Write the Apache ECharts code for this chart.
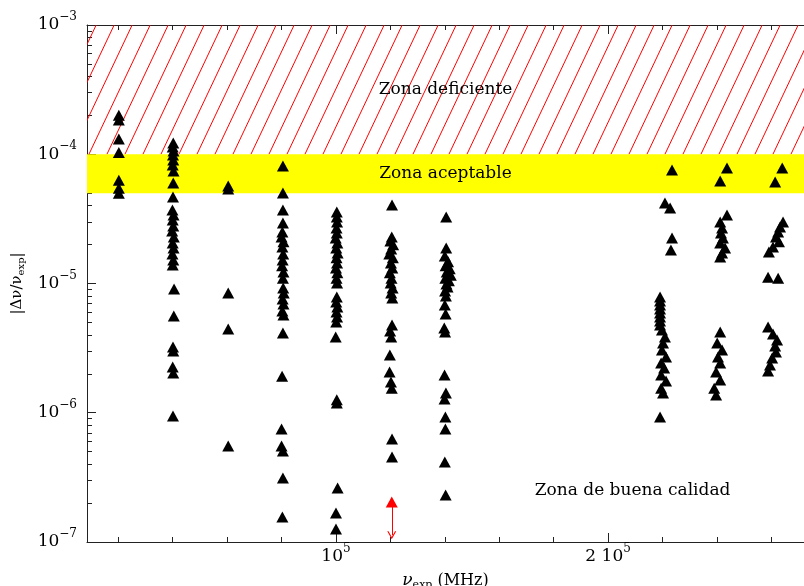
<!DOCTYPE html>
<html><head><meta charset="utf-8">
<script src="https://cdn.jsdelivr.net/npm/echarts@6/dist/echarts.min.js"></script>
<style>html,body{margin:0;padding:0;background:#fff}#c{width:804px;height:586px}</style>
</head><body><div id="c"></div>
<script>
// ---- data: [nu_exp (MHz), |dnu/nu_exp|] ----
const col1 = [[20200,2.0e-4],[20200,1.84e-4],[20200,1.31e-4],[20200,1.03e-4],[20200,6.3e-5],[20200,5.45e-5],[20200,5.0e-5]];
const col2 = [[40200,1.22e-4],[40000,1.14e-4],[40300,1.06e-4],[40100,9.87e-5],[40200,9.03e-5],[40000,8.26e-5],[40300,7.42e-5],[40200,5.99e-5],[40100,4.67e-5],[39900,3.70e-5],[40300,3.39e-5],[40000,3.10e-5],[40200,2.79e-5],[39800,2.55e-5],[40400,2.29e-5],[40000,2.06e-5],[40300,1.88e-5],[39900,1.69e-5],[40200,1.52e-5],[40000,1.39e-5],[40500,9.07e-6],[40400,5.60e-6],[40100,3.23e-6],[40200,3.00e-6],[40000,2.26e-6],[40200,2.03e-6],[40100,9.44e-7]];
const col3 = [[60400,5.68e-5],[60400,5.38e-5],[60400,8.44e-6],[60400,4.45e-6],[60400,5.53e-7]];
const col4 = [[80500,8.11e-5],[80500,5.01e-5],[80500,3.70e-5],[80500,2.94e-5],[80300,2.50e-5],[80000,2.29e-5],[80700,2.10e-5],[80300,1.92e-5],[80600,1.69e-5],[80400,1.52e-5],[80200,1.37e-5],[80700,1.23e-5],[80500,1.10e-5],[80600,9.23e-6],[80800,8.44e-6],[80400,7.59e-6],[80700,6.94e-6],[80300,6.13e-6],[80700,5.71e-6],[80500,4.14e-6],[80200,1.92e-6],[80000,7.49e-7],[80000,5.53e-7],[80500,5.06e-7],[80500,3.13e-7],[80300,1.56e-7]];
const col5 = [[100300,3.57e-5],[100300,3.27e-5],[100400,2.99e-5],[100200,2.69e-5],[100300,2.46e-5],[99900,2.25e-5],[100500,2.06e-5],[100100,1.88e-5],[100600,1.72e-5],[100200,1.58e-5],[100400,1.44e-5],[100000,1.32e-5],[100500,1.21e-5],[100200,1.10e-5],[100400,1.01e-5],[100300,7.86e-6],[100100,7.19e-6],[100500,6.58e-6],[100200,6.02e-6],[100400,5.51e-6],[100100,5.04e-6],[99900,3.86e-6],[100300,1.26e-6],[100300,1.19e-6],[100600,2.62e-7],[100000,1.68e-7],[100000,1.26e-7]];
const col6 = [[120600,4.05e-5],[120500,2.29e-5],[120000,2.13e-5],[121000,1.99e-5],[120300,1.85e-5],[119600,1.69e-5],[120900,1.58e-5],[120200,1.44e-5],[120700,1.32e-5],[119800,1.21e-5],[120400,1.10e-5],[120100,1.01e-5],[120800,9.23e-6],[120300,8.44e-6],[120700,7.72e-6],[120600,4.77e-6],[119900,4.29e-6],[120300,3.86e-6],[119800,2.80e-6],[119700,2.07e-6],[120200,1.73e-6],[120500,1.55e-6],[120600,6.26e-7],[120600,4.55e-7]];
const col7 = [[140500,3.27e-5],[140500,1.88e-5],[140000,1.63e-5],[141200,1.47e-5],[140300,1.37e-5],[141800,1.30e-5],[140700,1.23e-5],[142200,1.16e-5],[140200,1.10e-5],[141500,1.05e-5],[140600,9.91e-6],[141000,9.39e-6],[140100,8.75e-6],[140400,8.00e-6],[140000,6.82e-6],[140300,5.81e-6],[139800,4.52e-6],[140100,4.21e-6],[139900,1.96e-6],[140400,1.42e-6],[139900,1.28e-6],[140200,9.27e-7],[140200,7.49e-7],[140000,4.16e-7],[140300,2.31e-7]];
const col8 = [[223500,7.55e-5],[220900,4.20e-5],[222800,3.84e-5],[223500,2.25e-5],[223100,1.82e-5],[219100,7.86e-6],[219100,7.32e-6],[219100,6.82e-6],[219100,6.35e-6],[219100,5.91e-6],[219100,5.51e-6],[219100,5.13e-6],[219100,4.77e-6],[219800,4.37e-6],[220900,3.86e-6],[220200,3.46e-6],[219800,3.06e-6],[221300,2.70e-6],[219500,2.43e-6],[220600,2.22e-6],[219500,1.96e-6],[221300,1.76e-6],[219500,1.55e-6],[220200,1.42e-6],[219100,9.27e-7]];
const col9 = [[243700,7.83e-5],[241200,6.21e-5],[243700,3.39e-5],[241200,2.99e-5],[241900,2.69e-5],[241500,2.46e-5],[242200,2.25e-5],[241200,2.06e-5],[243000,1.88e-5],[241900,1.72e-5],[241200,1.60e-5],[241200,4.21e-6],[240100,3.46e-6],[241900,3.06e-6],[240400,2.70e-6],[241200,2.43e-6],[239700,2.07e-6],[241200,1.79e-6],[239000,1.55e-6],[239700,1.37e-6]];
const col10 = [[264000,7.83e-5],[261400,6.10e-5],[264300,2.99e-5],[263200,2.74e-5],[262500,2.50e-5],[261700,2.29e-5],[262800,2.10e-5],[260600,1.92e-5],[259100,1.75e-5],[258800,1.12e-5],[262500,1.10e-5],[258800,4.61e-6],[260600,4.07e-6],[262100,3.66e-6],[261400,3.28e-6],[261700,2.95e-6],[260300,2.65e-6],[259500,2.34e-6],[258800,2.10e-6]];
const limitPoint = [[120500, 2.04e-7]];
const limitArrowEnd = 1.13e-7;
const deficientBand = [1e-4, 1e-3];
const acceptableBand = [5e-5, 1e-4];
const xRange = [8500, 272000];
const yRange = [1e-7, 1e-3];
const xTicks = [20000,40000,60000,80000,100000,120000,140000,160000,180000,200000,220000,240000,260000];
const xMajorTicks = [100000, 200000];
const yMajorTicks = [1e-7, 1e-6, 1e-5, 1e-4, 1e-3];
const yMinorMantissas = [2, 3, 4, 5, 6, 7, 8, 9];
const zoneLabels = ['Zona deficiente', 'Zona aceptable', 'Zona de buena calidad'];
const goodZoneLabelAt = [209000, 2.52e-7];

const yMinorTicks = [];
yMajorTicks.slice(0, -1).forEach(d => yMinorMantissas.forEach(m => yMinorTicks.push(+(m * d).toPrecision(3))));

const SERIF = '"DejaVu Serif", "Liberation Serif", serif';
const AX = '#222';

// hatch pattern
const pc = document.createElement('canvas');
pc.width = 18; pc.height = 38;
const g = pc.getContext('2d');
g.strokeStyle = '#ff0000'; g.lineWidth = 1;
for (const dx of [-18, 0, 18]) { g.beginPath(); g.moveTo(dx, 38); g.lineTo(dx + 18, 0); g.stroke(); }

const allPoints = [].concat(col1, col2, col3, col4, col5, col6, col7, col8, col9, col10);

const supRich = {
  b: { fontFamily: SERIF, fontSize: 17, color: '#000' },
  s: { fontFamily: SERIF, fontSize: 12, color: '#000', lineHeight: 12, padding: [0, 0, 16, 0] }
};

function xAxisDef(pos, ticks, len, showLine, showLabel) {
  return {
    type: 'value', position: pos, min: xRange[0], max: xRange[1],
    axisLine: { show: showLine, onZero: false, lineStyle: { color: AX, width: 1 } },
    axisTick: { show: true, inside: true, length: len, customValues: ticks, lineStyle: { color: AX } },
    axisLabel: showLabel ? {
      show: true, margin: 6, customValues: xMajorTicks,
      formatter: v => (v === 100000 ? '{b|10}{s|5}' : '{b|2 10}{s|5}'),
      rich: supRich
    } : { show: false },
    splitLine: { show: false },
    name: showLabel ? '{n|ν}{sub|exp}{t| (MHz)}' : '',
    nameLocation: 'middle', nameGap: 28, nameMoveOverlap: false,
    nameTextStyle: { rich: {
      n: { fontFamily: SERIF, fontSize: 17, fontStyle: 'italic', color: '#000' },
      sub: { fontFamily: SERIF, fontSize: 11, color: '#000', padding: [10, 0, 0, 0] },
      t: { fontFamily: SERIF, fontSize: 16, color: '#000' }
    } }
  };
}

function yAxisDef(ticks, len, main) {
  return {
    type: 'log', logBase: 10, min: yRange[0], max: yRange[1], position: 'left',
    axisLine: { show: main, onZero: false, lineStyle: { color: AX, width: 1 } },
    axisTick: { show: true, inside: true, length: len, customValues: ticks, lineStyle: { color: AX } },
    minorTick: { show: false },
    axisLabel: main ? {
      margin: 10, customValues: yMajorTicks,
      formatter: v => '{b|10}{s|−' + Math.round(-Math.log10(v)) + '}',
      rich: supRich
    } : { show: false },
    splitLine: { show: false }, minorSplitLine: { show: false },
    name: main ? '{t||Δν/ν}{sub|exp}{t||}' : '',
    nameLocation: 'middle', nameRotate: 90, nameGap: 58,
    nameTextStyle: { rich: {
      t: { fontFamily: SERIF, fontSize: 15, color: '#000' },
      sub: { fontFamily: SERIF, fontSize: 10, color: '#000', padding: [9, 0, 0, 0] }
    } }
  };
}

const chart = echarts.init(document.getElementById('c'), null, { renderer: 'canvas' });
chart.setOption({
  animation: false,
  backgroundColor: '#fff',
  grid: { left: 87, right: 0, top: 25, bottom: 44, containLabel: false, outerBoundsMode: 'none' },
  xAxis: [
    xAxisDef('bottom', xTicks, 5, true, true),
    xAxisDef('bottom', xMajorTicks, 9, false, false),
    xAxisDef('top', xTicks, 5, true, false),
    xAxisDef('top', xMajorTicks, 9, false, false)
  ],
  yAxis: [
    yAxisDef(yMajorTicks, 9, true),
    yAxisDef(yMinorTicks, 5, false)
  ],
  series: [
    {
      type: 'scatter', name: 'medidas', xAxisIndex: 0, yAxisIndex: 0,
      data: allPoints, symbol: 'triangle', symbolSize: [12, 11],
      itemStyle: { color: '#000', opacity: 1 }, z: 5,
      markArea: {
        silent: true,
        data: [
          [{ yAxis: deficientBand[0], name: zoneLabels[0],
             itemStyle: { color: { image: pc, repeat: 'repeat' }, opacity: 1 } }, { yAxis: deficientBand[1] }],
          [{ yAxis: acceptableBand[0], name: zoneLabels[1],
             itemStyle: { color: '#ffff00', opacity: 1 } }, { yAxis: acceptableBand[1] }]
        ],
        label: { show: true, position: 'inside', fontFamily: SERIF, fontSize: 17, color: '#000' }
      },
      markPoint: {
        silent: true,
        data: [{ coord: goodZoneLabelAt, name: zoneLabels[2], symbol: 'rect', symbolSize: 1,
                 itemStyle: { color: 'rgba(0,0,0,0)' } }],
        label: { show: true, position: 'inside', formatter: '{b}', fontFamily: SERIF, fontSize: 17, color: '#000' }
      }
    },
    {
      type: 'scatter', name: 'limite', xAxisIndex: 0, yAxisIndex: 0,
      data: limitPoint, symbol: 'triangle', symbolSize: [12, 11],
      itemStyle: { color: '#ff0000', opacity: 1 }, z: 6,
      markLine: {
        silent: true,
        symbol: ['none', 'path://M5,0 L10,8 L8.6,8 L5,2.2 L1.4,8 L0,8 Z'],
        symbolSize: [9, 8],
        lineStyle: { color: '#ff0000', width: 1, type: 'solid', opacity: 1 },
        label: { show: false },
        data: [[{ coord: limitPoint[0] }, { coord: [limitPoint[0][0], limitArrowEnd] }]]
      }
    }
  ]
});
</script></body></html>
